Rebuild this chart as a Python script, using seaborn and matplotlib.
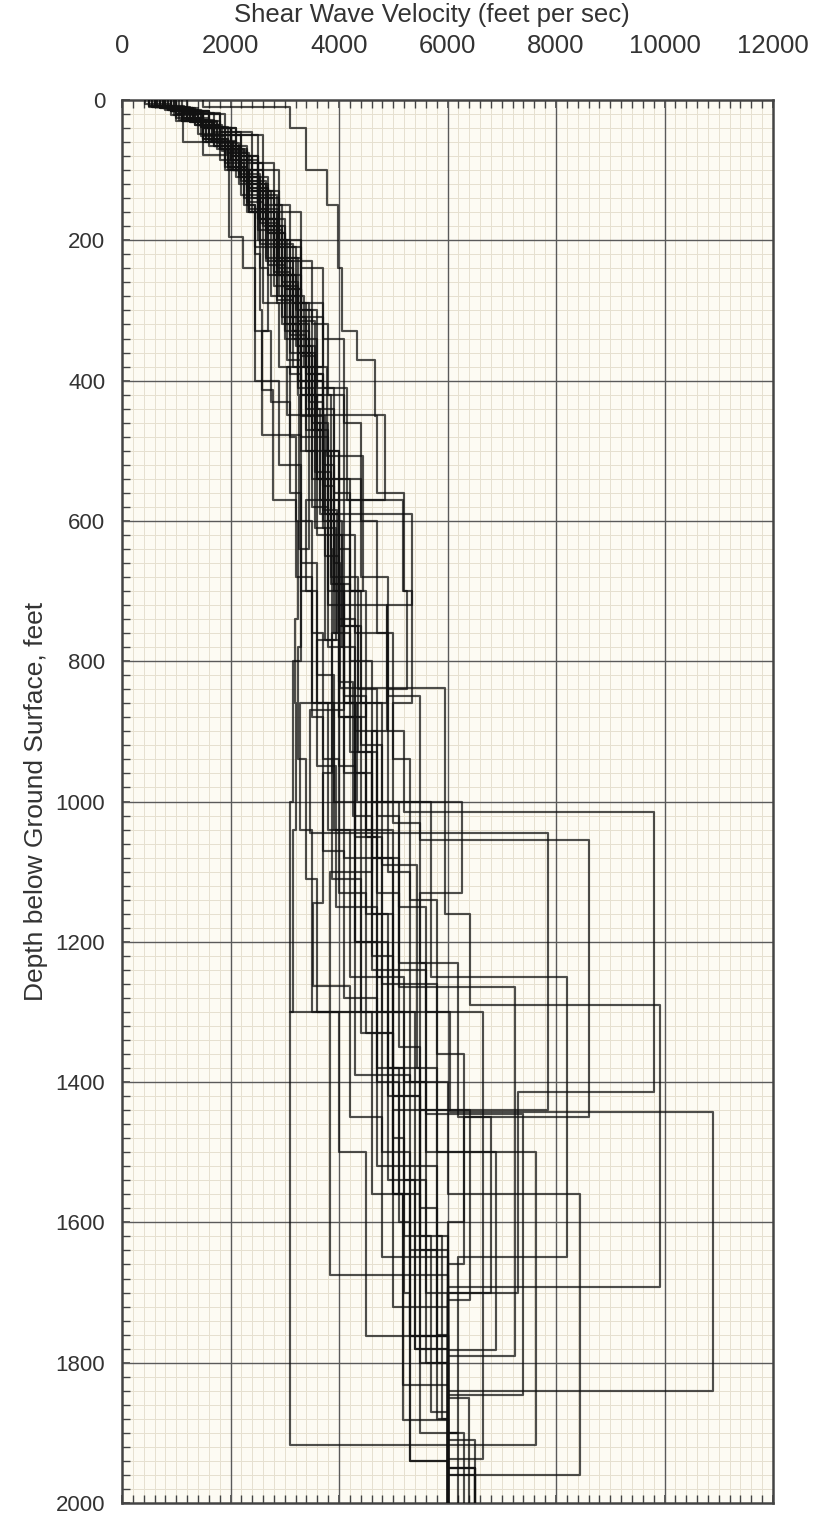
import numpy as np
import pandas as pd
import matplotlib
matplotlib.use("Agg")
import matplotlib.pyplot as plt
from matplotlib.ticker import MultipleLocator
import seaborn as sns

# ---- data: layer bottoms (ft) and shear-wave velocities (ft/s) per profile ----
P01_depth = [8, 25, 55, 95, 150, 210, 290, 380, 480, 600, 740, 860, 1040, 1300, 1917, 2000]
P01_vs = [600, 1150, 1500, 1950, 2300, 2450, 2600, 2900, 3100, 3200, 3250, 3190, 3200, 3150, 3100, 6000]
P02_depth = [12, 35, 70, 120, 180, 250, 340, 440, 560, 700, 860, 1000, 1150, 1300, 1443, 1840, 2000]
P02_vs = [800, 1400, 1800, 2300, 2700, 3000, 3300, 3600, 3900, 4200, 4400, 4800, 5100, 5600, 6050, 10900, 6000]
P03_depth = [10, 28, 60, 100, 160, 230, 310, 400, 500, 620, 760, 900, 1015, 1414, 1700, 2000]
P03_vs = [700, 1200, 1700, 2100, 2500, 2800, 3100, 3400, 3700, 4000, 4300, 4900, 5200, 9800, 7300, 6000]
P04_depth = [15, 40, 85, 140, 210, 300, 400, 520, 660, 838, 1160, 1290, 1692, 2000]
P04_vs = [900, 1600, 2000, 2400, 2800, 3200, 3500, 3700, 3900, 4020, 5950, 6410, 9920, 6000]
P05_depth = [12, 32, 65, 110, 170, 240, 330, 430, 550, 700, 870, 1045, 1440, 1720, 2000]
P05_vs = [750, 1300, 1700, 2200, 2550, 2850, 3150, 3450, 3700, 3900, 4100, 3460, 7850, 5000, 6000]
P06_depth = [18, 45, 90, 150, 230, 320, 420, 540, 680, 850, 1055, 1450, 1660, 2000]
P06_vs = [1100, 1800, 2400, 2800, 3100, 3500, 3800, 4100, 4400, 4900, 5500, 8600, 6300, 6000]
P07_depth = [10, 30, 65, 110, 170, 250, 340, 450, 580, 720, 880, 1050, 1250, 1400, 1560, 1960, 2000]
P07_vs = [500, 1000, 1600, 2100, 2500, 2700, 3000, 3300, 3500, 3800, 4000, 4300, 4700, 5200, 6000, 8440, 6000]
P08_depth = [15, 40, 80, 130, 200, 290, 390, 500, 640, 800, 1000, 1250, 1650, 1900, 2000]
P08_vs = [900, 1500, 2000, 2400, 2800, 3100, 3400, 3700, 4000, 4200, 4600, 5700, 8200, 6200, 6000]
P09_depth = [20, 50, 100, 170, 250, 350, 460, 590, 740, 900, 1080, 1265, 1790, 1950, 2000]
P09_vs = [1000, 1500, 2200, 2600, 2900, 3200, 3500, 3800, 4000, 4300, 4700, 5100, 7240, 6000, 6500]
P10_depth = [10, 30, 60, 100, 160, 230, 320, 420, 540, 690, 850, 1040, 1240, 1445, 1846, 2000]
P10_vs = [650, 1100, 1550, 2000, 2350, 2650, 2950, 3300, 3600, 3850, 4100, 4500, 5000, 5600, 7390, 6000]
P11_depth = [14, 38, 75, 125, 190, 270, 360, 470, 600, 760, 930, 1100, 1675, 2000]
P11_vs = [850, 1450, 1900, 2300, 2700, 3000, 3300, 3500, 3700, 3900, 4200, 4600, 3830, 6000]
P12_depth = [10, 25, 55, 95, 150, 220, 300, 413, 570, 680, 860, 1040, 1250, 1500, 1762, 2000]
P12_vs = [600, 1100, 1500, 1900, 2250, 2450, 2550, 2580, 2780, 3200, 3500, 3800, 4200, 4800, 5300, 6000]
P13_depth = [12, 30, 60, 100, 160, 240, 330, 477, 600, 760, 940, 1130, 1330, 1560, 1882, 2000]
P13_vs = [700, 1250, 1650, 2050, 2350, 2550, 2700, 2580, 3300, 3500, 3700, 4000, 4500, 5000, 5180, 6000]
P14_depth = [15, 40, 80, 130, 200, 290, 380, 449, 570, 700, 860, 1040, 1200, 1400, 1600, 1940, 2000]
P14_vs = [950, 1500, 2000, 2500, 2900, 3300, 3700, 3040, 4850, 3400, 3600, 3900, 4300, 4700, 5100, 5300, 6000]
P15_depth = [10, 28, 58, 100, 155, 225, 310, 410, 570, 700, 840, 1100, 1400, 1700, 2000]
P15_vs = [550, 1050, 1600, 2100, 2500, 2900, 3300, 3700, 4150, 5180, 5250, 4900, 5300, 5600, 6000]
P16_depth = [12, 35, 70, 115, 180, 260, 350, 460, 590, 720, 900, 1080, 1300, 1520, 1760, 2000]
P16_vs = [800, 1350, 1800, 2250, 2650, 2950, 3250, 3550, 3650, 5340, 4880, 4600, 5000, 5400, 5800, 6000]
P17_depth = [15, 40, 80, 130, 200, 280, 380, 508, 700, 860, 1040, 1220, 1420, 1640, 1880, 2000]
P17_vs = [900, 1500, 2000, 2400, 2750, 3050, 3350, 3780, 4440, 4100, 4300, 4600, 5000, 5500, 5800, 6000]
P18_depth = [10, 25, 50, 85, 130, 180, 250, 330, 420, 640, 780, 940, 1110, 1300, 1500, 1762, 2000]
P18_vs = [700, 1200, 1600, 2000, 2300, 2600, 2800, 3000, 3250, 3270, 3300, 3250, 3400, 3600, 4000, 4500, 6000]
P19_depth = [12, 30, 62, 105, 160, 230, 320, 420, 585, 760, 960, 1145, 1263, 1450, 1650, 1900, 2000]
P19_vs = [800, 1300, 1750, 2150, 2550, 2850, 3150, 3450, 3700, 3960, 3870, 3700, 3520, 4200, 4800, 5500, 6000]
P20_depth = [15, 40, 80, 135, 205, 290, 390, 500, 640, 827, 1110, 1330, 1560, 1800, 1960, 2000]
P20_vs = [1000, 1600, 2100, 2500, 2850, 3150, 3450, 3700, 3850, 3880, 3870, 4400, 5000, 5500, 6000, 6500]
P21_depth = [10, 30, 60, 100, 155, 225, 310, 410, 530, 680, 860, 1000, 1130, 1440, 1710, 2000]
P21_vs = [600, 1100, 1500, 1950, 2350, 2650, 2950, 3250, 3550, 3850, 4100, 4330, 6270, 5500, 6410, 6000]
P22_depth = [14, 36, 72, 120, 185, 265, 360, 470, 600, 750, 920, 1090, 1380, 1620, 1950, 2000]
P22_vs = [850, 1400, 1850, 2300, 2650, 2950, 3250, 3550, 3800, 4050, 4400, 4800, 5440, 5800, 6000, 6500]
P23_depth = [12, 32, 65, 110, 170, 245, 335, 440, 570, 720, 860, 1040, 1300, 1560, 1832, 2000]
P23_vs = [750, 1250, 1700, 2150, 2500, 2800, 3100, 3400, 3650, 4000, 4880, 3280, 3500, 4600, 5180, 6000]
P24_depth = [10, 28, 55, 95, 145, 210, 290, 390, 500, 640, 800, 1000, 1300, 1937, 2000]
P24_vs = [600, 1100, 1550, 1950, 2300, 2600, 2850, 3100, 3300, 3450, 3300, 3150, 3100, 6650, 6000]
P25_depth = [18, 45, 90, 150, 225, 315, 420, 540, 680, 840, 1020, 1230, 1500, 1917, 2000]
P25_vs = [1050, 1700, 2200, 2600, 2950, 3250, 3550, 3850, 4100, 4350, 4700, 5100, 5600, 7640, 6000]
P26_depth = [12, 30, 60, 100, 160, 235, 320, 420, 540, 690, 860, 1050, 1260, 1500, 1782, 2000]
P26_vs = [700, 1200, 1650, 2050, 2400, 2700, 3000, 3300, 3600, 3900, 4200, 4500, 4800, 5800, 6900, 6000]
P27_depth = [15, 38, 75, 125, 190, 270, 365, 480, 620, 780, 960, 1160, 1380, 1560, 1762, 2000]
P27_vs = [900, 1450, 1950, 2350, 2700, 3000, 3300, 3550, 3800, 4050, 4300, 4600, 4900, 5100, 5300, 6000]
P28_depth = [10, 25, 52, 90, 140, 205, 285, 380, 500, 650, 830, 1020, 1240, 1480, 1700, 1940, 2000]
P28_vs = [550, 1000, 1450, 1900, 2250, 2550, 2850, 3150, 3450, 3750, 4000, 4250, 4600, 5000, 5200, 5300, 6000]
P29_depth = [14, 35, 70, 115, 175, 250, 340, 450, 590, 750, 930, 1130, 1350, 1580, 1800, 1910, 2000]
P29_vs = [800, 1350, 1800, 2200, 2550, 2850, 3150, 3450, 3750, 4000, 4350, 4700, 5100, 5500, 5800, 6000, 6500]
P30_depth = [20, 50, 100, 160, 240, 340, 460, 600, 760, 940, 1140, 1360, 1600, 1850, 2000]
P30_vs = [1200, 1900, 2500, 2900, 3300, 3700, 4100, 4400, 4700, 5000, 5300, 5800, 6300, 6000, 6400]
P31_depth = [8, 22, 48, 85, 135, 200, 280, 370, 480, 610, 770, 950, 1150, 1380, 1620, 1870, 2000]
P31_vs = [500, 950, 1400, 1800, 2200, 2500, 2750, 3050, 3300, 3550, 3750, 4000, 4300, 4700, 5200, 5700, 6000]
P32_depth = [10, 40, 100, 150, 240, 330, 370, 450, 560, 700, 860, 1030, 1230, 1450, 1700, 1950, 2000]
P32_vs = [1500, 3100, 3400, 3780, 3980, 4050, 4330, 4660, 4700, 5200, 5350, 5000, 5500, 6200, 6800, 6000, 6500]
P33_depth = [5, 21, 60, 78, 195, 240, 330, 430, 560, 700, 880, 1070, 1280, 1520, 1780, 2000]
P33_vs = [420, 900, 1120, 1500, 1970, 2230, 2450, 2750, 3100, 3300, 3500, 3700, 4100, 4700, 5400, 6000]
P34_depth = [10, 30, 60, 100, 160, 400, 520, 660, 820, 1000, 1200, 1420, 1650, 1900, 2000]
P34_vs = [600, 1100, 1500, 1900, 2300, 2450, 2900, 3300, 3600, 3900, 4300, 4900, 5500, 6000, 6300]
P35_depth = [8, 20, 50, 160, 280, 400, 540, 700, 880, 1080, 1300, 1540, 1800, 2000]
P35_vs = [500, 1000, 1800, 2600, 2900, 3250, 3500, 3800, 4000, 4400, 4800, 5200, 5600, 6000]
P36_depth = [12, 30, 65, 110, 170, 250, 330, 400, 500, 620, 780, 960, 1160, 1380, 1620, 1880, 2000]
P36_vs = [750, 1300, 1800, 2300, 2700, 3000, 3150, 3250, 3400, 3600, 3800, 4100, 4500, 5000, 5500, 5900, 6000]
P37_depth = [15, 40, 85, 140, 210, 300, 410, 540, 700, 880, 1080, 1300, 1540, 1780, 2000]
P37_vs = [950, 1600, 2100, 2500, 2900, 3300, 3600, 3900, 4200, 4500, 4100, 4400, 4900, 5400, 6000]
P38_depth = [10, 32, 70, 120, 185, 265, 360, 470, 610, 770, 950, 1150, 1390, 1640, 1900, 2000]
P38_vs = [650, 1250, 1750, 2150, 2500, 2800, 3100, 3400, 3700, 3950, 3600, 3950, 4300, 5300, 6000, 6200]

PROFILES = [
    (P01_depth, P01_vs), (P02_depth, P02_vs), (P03_depth, P03_vs), (P04_depth, P04_vs),
    (P05_depth, P05_vs), (P06_depth, P06_vs), (P07_depth, P07_vs), (P08_depth, P08_vs),
    (P09_depth, P09_vs), (P10_depth, P10_vs), (P11_depth, P11_vs), (P12_depth, P12_vs),
    (P13_depth, P13_vs), (P14_depth, P14_vs), (P15_depth, P15_vs), (P16_depth, P16_vs),
    (P17_depth, P17_vs), (P18_depth, P18_vs), (P19_depth, P19_vs), (P20_depth, P20_vs),
    (P21_depth, P21_vs), (P22_depth, P22_vs), (P23_depth, P23_vs), (P24_depth, P24_vs),
    (P25_depth, P25_vs), (P26_depth, P26_vs), (P27_depth, P27_vs), (P28_depth, P28_vs),
    (P29_depth, P29_vs), (P30_depth, P30_vs), (P31_depth, P31_vs), (P32_depth, P32_vs),
    (P33_depth, P33_vs), (P34_depth, P34_vs), (P35_depth, P35_vs), (P36_depth, P36_vs),
    (P37_depth, P37_vs), (P38_depth, P38_vs),
]

X_TICKS = [0, 2000, 4000, 6000, 8000, 10000, 12000]
Y_TICKS = [0, 200, 400, 600, 800, 1000, 1200, 1400, 1600, 1800, 2000]

# ---- build step-profile table ----
rows = []
for pid, (dep, vs) in enumerate(PROFILES):
    top = 0
    k = 0
    for bot, v in zip(dep, vs):
        rows.append((pid, k, v, top)); k += 1
        rows.append((pid, k, v, bot)); k += 1
        top = bot
df = pd.DataFrame(rows, columns=["profile", "order", "vs", "depth"])

sns.set_style("ticks")
plt.rcParams["font.family"] = ["Liberation Sans", "DejaVu Sans"]

fig = plt.figure(figsize=(8.13, 15.17), dpi=100)
ax = fig.add_axes([122 / 813, 1 - 1503 / 1517, 651 / 813, 1403 / 1517])
ax.set_facecolor("#fdfbf3")

sns.lineplot(data=df, x="vs", y="depth", units="profile", estimator=None,
             sort=False, color="#111111", alpha=0.74, linewidth=1.55,
             legend=False, ax=ax, zorder=3)

ax.set_xlim(0, 12000)
ax.set_ylim(2000, 0)
ax.set_xticks(X_TICKS)
ax.set_yticks(Y_TICKS)
ax.xaxis.set_minor_locator(MultipleLocator(200))
ax.yaxis.set_minor_locator(MultipleLocator(20))

ax.grid(which="minor", color="#e6e0cf", linewidth=0.7)
ax.set_axisbelow(True)
for xv in X_TICKS[1:-1]:
    ax.axvline(xv, color="#5a5a5a", linewidth=1.0, zorder=1)
for yv in Y_TICKS[1:-1]:
    ax.axhline(yv, color="#5a5a5a", linewidth=1.0, zorder=1)

ax.xaxis.set_label_position("top")
ax.tick_params(axis="x", which="both", direction="in", top=True, bottom=True,
               labeltop=True, labelbottom=False, color="#444444")
ax.tick_params(axis="y", which="both", direction="in", left=True, right=False,
               color="#444444")
ax.tick_params(which="major", length=6, width=1.2, labelcolor="#333333")
ax.tick_params(which="minor", length=6, width=1.0)
ax.tick_params(axis="x", which="major", pad=30, labelsize=18.5)
ax.tick_params(axis="y", which="major", pad=12, labelsize=16)

for s in ax.spines.values():
    s.set_color("#444444")
    s.set_linewidth(1.8)

ax.set_xlabel("Shear Wave Velocity (feet per sec)", fontsize=18.5,
              color="#333333")
ax.xaxis.set_label_coords(0.476, 1.0 + 78 / 1403)
ax.set_ylabel("Depth below Ground Surface, feet", fontsize=19,
              color="#333333")
ax.yaxis.set_label_coords(-(122 - 48) / 651, 0.5)

fig.savefig("out.png", dpi=100, facecolor="white")
